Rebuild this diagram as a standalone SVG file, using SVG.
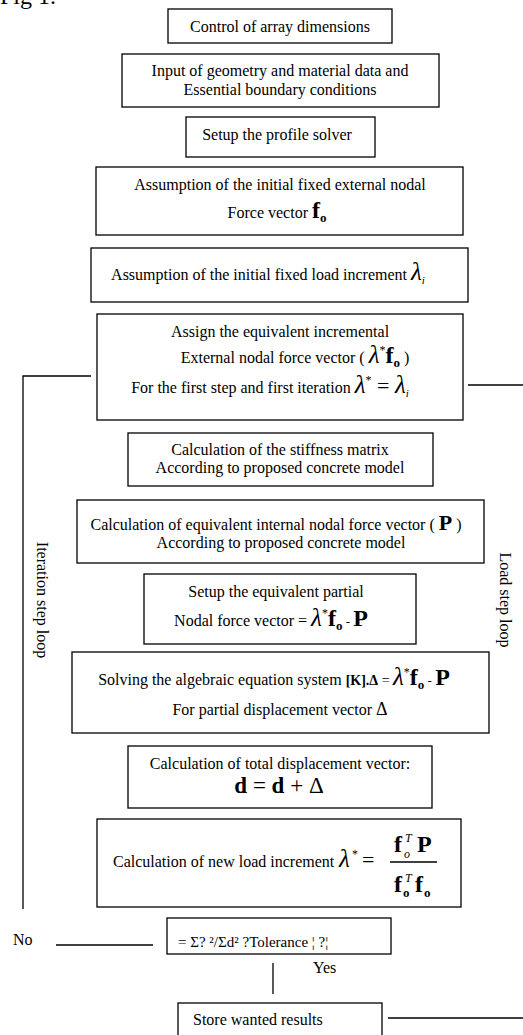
<svg xmlns="http://www.w3.org/2000/svg" width="523" height="1035" viewBox="0 0 523 1035">
<style>
.t{font-family:"Liberation Serif","Times New Roman",serif;font-size:16px;fill:#000}
.box{fill:#fff;stroke:#000;stroke-width:1.3}
.ln{stroke:#000;stroke-width:1.3;fill:none}
.bf{font-weight:bold;font-size:24px}
.bs{font-weight:bold;font-size:13px}
.lam{font-style:italic;font-size:25px}
.sup{font-size:12px}
.it{font-style:italic}
.sm{font-size:12px}
</style>
<rect width="523" height="1035" fill="#fff"/>
<text class="t" x="0" y="4" style="font-size:24px">Fig 1.</text>

<g id="connectors">
<path class="ln" d="M91 376 H23 V909"/>
<path class="ln" d="M468 385 H523"/>
<path class="ln" d="M56 945 H153"/>
<path class="ln" d="M273 963 V994"/>
<path class="ln" d="M388 1018 H523"/>
</g>

<g id="n1"><rect class="box" x="168" y="9" width="224" height="34"/>
<text class="t" x="280" y="32" text-anchor="middle">Control of array dimensions</text></g>

<g id="n2"><rect class="box" x="122" y="54" width="317" height="53"/>
<text class="t" x="280" y="76" text-anchor="middle">Input of geometry and material data and</text>
<text class="t" x="280" y="95" text-anchor="middle">Essential boundary conditions</text></g>

<g id="n3"><rect class="box" x="186" y="117" width="189" height="40"/>
<text class="t" x="277" y="140" text-anchor="middle">Setup the profile solver</text></g>

<g id="n4"><rect class="box" x="96" y="167" width="367" height="68"/>
<text class="t" x="280" y="190" text-anchor="middle">Assumption of the initial fixed external nodal</text>
<text class="t" x="277" y="218" text-anchor="middle">Force vector <tspan class="bf">f</tspan><tspan class="bs" dy="4">o</tspan></text></g>

<g id="n5"><rect class="box" x="91" y="248" width="377" height="54"/>
<text class="t" x="268" y="280" text-anchor="middle">Assumption of the initial fixed load increment  <tspan class="lam">λ</tspan><tspan class="it" font-size="11" dy="4">i</tspan></text></g>

<g id="n6"><rect class="box" x="97" y="314" width="366" height="106"/>
<text class="t" x="280" y="337" text-anchor="middle">Assign the equivalent incremental</text>
<text class="t" x="295" y="363" text-anchor="middle">External nodal force vector ( <tspan class="lam">λ</tspan><tspan class="sup" dy="-9">*</tspan><tspan class="bf" dy="9">f</tspan><tspan class="bs" dy="4">o</tspan><tspan dy="-4"> )</tspan></text>
<text class="t" x="270" y="393" text-anchor="middle">For the first step and first iteration <tspan class="lam">λ</tspan><tspan class="sup" dy="-9">*</tspan><tspan font-size="22" dy="9"> = </tspan><tspan class="lam">λ</tspan><tspan class="it" font-size="11" dy="4">i</tspan></text></g>

<g id="n7"><rect class="box" x="128" y="433" width="305" height="53"/>
<text class="t" x="280" y="455" text-anchor="middle">Calculation of the stiffness matrix</text>
<text class="t" x="280" y="473" text-anchor="middle">According to proposed concrete model</text></g>

<g id="n8"><rect class="box" x="77" y="500" width="407" height="63"/>
<text class="t" x="276" y="530" text-anchor="middle">Calculation of equivalent internal nodal force vector ( <tspan font-weight="bold" font-size="22">P</tspan> )</text>
<text class="t" x="281" y="548" text-anchor="middle">According to proposed concrete model</text></g>

<g id="n9"><rect class="box" x="144" y="574" width="272" height="70"/>
<text class="t" x="276" y="597" text-anchor="middle">Setup the equivalent partial</text>
<text class="t" x="271" y="626" text-anchor="middle">Nodal force vector = <tspan class="lam">λ</tspan><tspan class="sup" dy="-9">*</tspan><tspan class="bf" dy="9">f</tspan><tspan class="bs" dy="4">o</tspan><tspan font-size="13" dy="-4"> - </tspan><tspan class="bf">P</tspan></text></g>

<g id="n10"><rect class="box" x="72" y="652" width="417" height="81"/>
<text class="t" x="274" y="685" text-anchor="middle">Solving the algebraic equation system <tspan font-weight="bold" font-size="14">[K].Δ</tspan><tspan font-size="14"> = </tspan><tspan class="lam">λ</tspan><tspan class="sup" dy="-9">*</tspan><tspan class="bf" dy="9">f</tspan><tspan class="bs" dy="4">o</tspan><tspan font-size="13" dy="-4"> - </tspan><tspan class="bf">P</tspan></text>
<text class="t" x="280" y="715" text-anchor="middle">For partial displacement vector <tspan font-size="18">Δ</tspan></text></g>

<g id="n11"><rect class="box" x="128" y="746" width="304" height="62"/>
<text class="t" x="280" y="769" text-anchor="middle">Calculation of total displacement vector:</text>
<text class="t" x="279" y="793" text-anchor="middle" style="font-size:23px"><tspan font-weight="bold">d</tspan> = <tspan font-weight="bold">d</tspan> + Δ</text></g>

<g id="n12"><rect class="box" x="97" y="819" width="364" height="88"/>
<text class="t" x="113" y="867">Calculation of new load increment</text>
<text class="t lam" x="339" y="867">λ</text>
<text class="t sup" x="352" y="858">*</text>
<text class="t" x="362" y="867" style="font-size:22px">=</text>
<path class="ln" d="M390 862 H437"/>
<text class="t bf" x="394" y="852">f</text>
<text class="t it sm" x="405" y="842">T</text>
<text class="t it sm" x="404" y="858">o</text>
<text class="t bf" x="417" y="852">P</text>
<text class="t bf" x="394" y="892">f</text>
<text class="t it sm" x="405" y="882">T</text>
<text class="t bs" x="403" y="897">o</text>
<text class="t bf" x="415" y="892">f</text>
<text class="t bs" x="424" y="897">o</text></g>

<g id="n13"><rect class="box" x="167" y="918" width="224" height="36"/>
<text class="t" x="178" y="947" style="font-size:15px">= Σ? ²/Σd² ?Tolerance ¦  ?¦</text></g>

<g id="n14"><rect class="box" x="178" y="1003" width="204" height="40"/>
<text class="t" x="193" y="1025">Store wanted results</text></g>

<text class="t" x="13" y="945">No</text>
<text class="t" x="313" y="973">Yes</text>
<text class="t" transform="translate(37 600) rotate(90)" text-anchor="middle">Iteration step loop</text>
<text class="t" transform="translate(500 600) rotate(90)" text-anchor="middle">Load step loop</text>
</svg>
